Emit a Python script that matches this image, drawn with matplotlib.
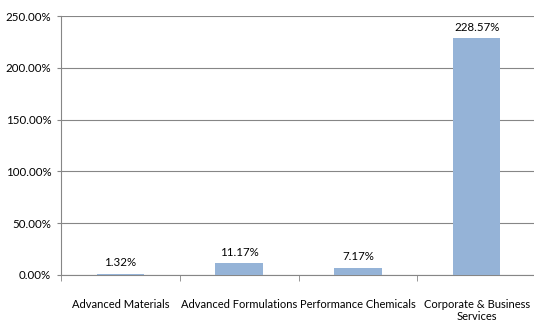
import matplotlib
matplotlib.use("Agg")
from matplotlib import pyplot as plt
from matplotlib.ticker import FuncFormatter

categories = ["Advanced Materials", "Advanced Formulations", "Performance Chemicals",
              "Corporate & Business\nServices"]
values = [1.32, 11.17, 7.17, 228.57]
y_ticks = [0, 50, 100, 150, 200, 250]

plt.rcParams['font.family'] = ['Lato', 'DejaVu Sans']
fig = plt.figure(figsize=(5.34, 3.22), dpi=100)
ax = fig.add_axes([0.114, 0.146, 0.89, 0.804])

x = list(range(len(categories)))
ax.bar(x, values, width=0.4, color="#95B3D7", zorder=3)
for xi, v in zip(x, values):
    ax.text(xi, v + 5, "%.2f%%" % v, ha="center", va="bottom", fontsize=8.3, color="black")

ax.set_xlim(-0.5, len(categories) - 0.5)
ax.set_ylim(0, 250)
ax.set_yticks(y_ticks)
ax.yaxis.set_major_formatter(FuncFormatter(lambda v, p: "%.2f%%" % v))
ax.set_xticks(x)
ax.set_xticklabels(categories, fontsize=8)
ax.set_xticks([i + 0.5 for i in range(-1, len(categories))], minor=True)
ax.tick_params(axis="x", which="major", length=0, pad=17)
ax.tick_params(axis="x", which="minor", length=4, color="#868686")
ax.tick_params(axis="y", length=3, color="#868686", labelsize=8.3, pad=4)
ax.yaxis.grid(True, color="#868686", linewidth=0.8, zorder=0)

for s in ["top", "right"]:
    ax.spines[s].set_visible(False)
ax.spines["left"].set_color("#868686")
ax.spines["bottom"].set_color("#868686")

fig.savefig("out.png", dpi=100)
